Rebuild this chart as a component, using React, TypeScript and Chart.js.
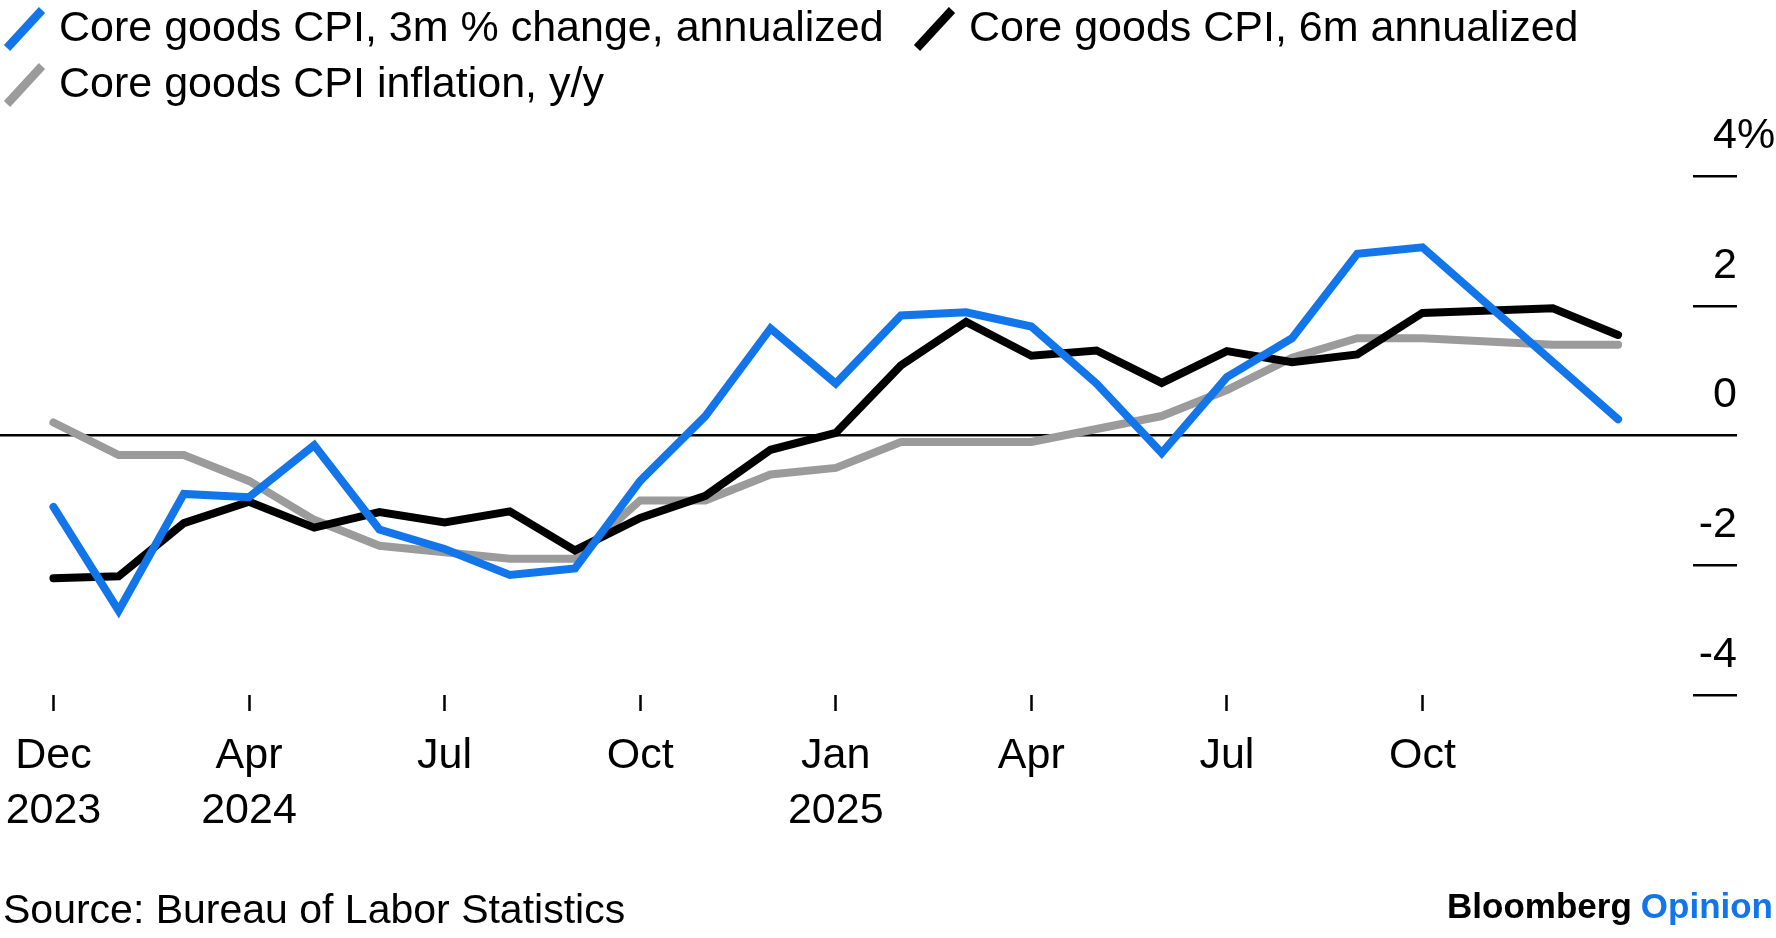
import React, { useEffect, useRef } from 'react';
import { Chart, registerables } from 'chart.js';

Chart.register(...registerables);

// monthly readings, Dec 2023 .. Dec 2025 (Oct 2025 not published)
const months = [
  '2023-12', '2024-01', '2024-02', '2024-03', '2024-04', '2024-05', '2024-06',
  '2024-07', '2024-08', '2024-09', '2024-10', '2024-11', '2024-12',
  '2025-01', '2025-02', '2025-03', '2025-04', '2025-05', '2025-06',
  '2025-07', '2025-08', '2025-09', '2025-10', '2025-11', '2025-12',
];
const threeMonth = [
  -1.1, -2.7, -0.9, -0.95, -0.15, -1.45, -1.75, -2.15, -2.05, -0.7, 0.3, 1.65, 0.8,
  1.85, 1.9, 1.68, 0.8, -0.27, 0.9, 1.5, 2.8, 2.9, null, null, 0.25,
];
const sixMonth = [
  -2.2, -2.17, -1.35, -1.02, -1.42, -1.18, -1.34, -1.17, -1.77, -1.27, -0.93, -0.22, 0.04,
  1.08, 1.75, 1.23, 1.31, 0.81, 1.3, 1.13, 1.25, 1.89, null, 1.96, 1.55,
];
const yearOnYear = [
  0.2, -0.3, -0.3, -0.7, -1.3, -1.7, -1.8, -1.9, -1.9, -1.0, -1.0, -0.6, -0.5,
  -0.1, -0.1, -0.1, 0.1, 0.3, 0.7, 1.2, 1.5, 1.5, null, 1.4, 1.4,
];
const seriesNames = [
  'Core goods CPI, 3m % change, annualized',
  'Core goods CPI, 6m annualized',
  'Core goods CPI inflation, y/y',
];
const tickMonths = [0, 3, 6, 9, 12, 15, 18, 21];
const tickLabels = [['Dec', '2023'], ['Apr', '2024'], ['Jul'], ['Oct'], ['Jan', '2025'], ['Apr'], ['Jul'], ['Oct']];
const yTicks = [-4, -2, 0, 2, 4];

const FONT = '"Liberation Sans", Arial, Helvetica, sans-serif';
const BLUE = '#1275ea';
const GRAY = '#9b9b9b';

// where each legend entry sits (slash left edge, text middle)
const legendSlots = [
  { x: 5, y: 29 },
  { x: 915, y: 29 },
  { x: 5, y: 85 },
];

const toPoints = (values: (number | null)[]) => months.map((m, i) => ({ x: i, y: values[i] }));

const overlay = {
  id: 'overlay',
  afterDraw(chart: any) {
    const { ctx } = chart;
    ctx.save();
    ctx.font = `43px ${FONT}`;
    ctx.textBaseline = 'middle';
    ctx.textAlign = 'left';
    chart.data.datasets.forEach((ds: any, i: number) => {
      const slot = legendSlots[i];
      ctx.strokeStyle = ds.borderColor;
      ctx.lineWidth = 8.5;
      ctx.lineCap = 'butt';
      ctx.beginPath();
      ctx.moveTo(slot.x + 2, slot.y + 19);
      ctx.lineTo(slot.x + 37, slot.y - 19);
      ctx.stroke();
      ctx.fillStyle = '#000';
      ctx.fillText(ds.label, slot.x + 54, slot.y);
    });

    // percent sign hangs after the top tick label
    const ys = chart.scales.y;
    ctx.fillText('%', 1737, ys.getPixelForValue(4) - 40);

    ctx.font = `41px ${FONT}`;
    ctx.fillText('Source: Bureau of Labor Statistics', 3, 912);

    ctx.textAlign = 'right';
    ctx.font = `bold 35px ${FONT}`;
    ctx.fillStyle = BLUE;
    ctx.fillText('Opinion', 1773, 908);
    const w = ctx.measureText('Opinion').width;
    ctx.fillStyle = '#000';
    ctx.fillText('Bloomberg', 1773 - w - 9, 908);
    ctx.restore();
  },
};

const CpiChart = () => {
  const chartRef = useRef<HTMLCanvasElement>(null);

  useEffect(() => {
    document.body.style.margin = '0';
    const canvas = chartRef.current;
    if (!canvas) return;

    const line = (label: string, values: (number | null)[], color: string) => ({
      label,
      data: toPoints(values),
      borderColor: color,
      backgroundColor: color,
      borderWidth: 8,
      borderCapStyle: 'round' as const,
      borderJoinStyle: 'miter' as const,
      pointRadius: 0,
      tension: 0,
      spanGaps: true,
    });

    const chart = new Chart(canvas, {
      type: 'line',
      data: {
        datasets: [
          line(seriesNames[0], threeMonth, BLUE),
          line(seriesNames[1], sixMonth, '#000000'),
          line(seriesNames[2], yearOnYear, GRAY),
        ],
      },
      options: {
        animation: false,
        responsive: true,
        maintainAspectRatio: false,
        events: [],
        layout: { padding: { top: 176, bottom: 93, left: 0, right: 0 } },
        plugins: { legend: { display: false }, tooltip: { enabled: false } },
        scales: {
          x: {
            type: 'linear',
            bounds: 'data',
            min: -0.82,
            max: 25.15,
            afterBuildTicks: (s: any) => { s.ticks = tickMonths.map((v) => ({ value: v })); },
            afterFit: (s: any) => {
              s.height = 150;
              s.paddingLeft = 0;
              s.paddingRight = 0;
            },
            grid: { drawOnChartArea: false, drawTicks: true, tickLength: 16, tickWidth: 2.5, tickColor: '#000' },
            border: { display: false },
            ticks: {
              autoSkip: false,
              maxRotation: 0,
              padding: 18,
              color: '#000',
              font: { family: FONT, size: 43, lineHeight: 1.28 },
              callback: (v: any) => tickLabels[tickMonths.indexOf(v)] ?? '',
            },
          },
          y: {
            position: 'right',
            min: -4,
            max: 4,
            afterBuildTicks: (s: any) => { s.ticks = yTicks.map((v) => ({ value: v })); },
            afterFit: (s: any) => { s.width = 83; },
            grid: {
              drawOnChartArea: true,
              color: (c: any) => (c.tick && c.tick.value === 0 ? '#000' : 'rgba(0,0,0,0)'),
              lineWidth: 2.5,
              drawTicks: true,
              tickLength: 44,
              tickWidth: 2.5,
              tickColor: '#000',
            },
            border: { display: false },
            ticks: {
              mirror: true,
              padding: 44,
              labelOffset: -40,
              color: '#000',
              font: { family: FONT, size: 43 },
              callback: (v: any) => String(v),
            },
          },
        },
      },
      plugins: [overlay],
    });

    return () => {
      chart.destroy();
    };
  }, []);

  return (
    <div style={{ position: 'relative', width: 1776, height: 938, background: '#fff' }}>
      <canvas ref={chartRef}></canvas>
    </div>
  );
};

export default function App() {
  return <CpiChart />;
}
